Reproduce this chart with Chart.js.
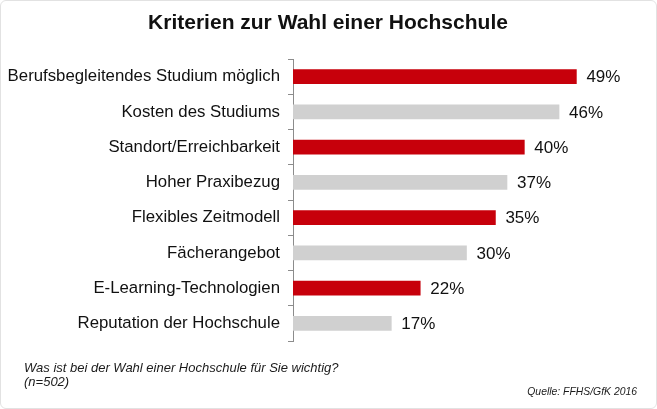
<!DOCTYPE html>
<html>
<head>
<meta charset="utf-8">
<script src="https://cdn.jsdelivr.net/npm/chart.js@4.4.1/dist/chart.umd.min.js"></script>
<style>
    html, body { margin: 0; padding: 0; background: #fff; }
    #wrap {
        position: relative;
        width: 655px;
        height: 407px;
        border: 1px solid #e2e2e2;
        border-radius: 6px;
        overflow: hidden;
    }
    canvas { display: block; }
</style>
</head>
<body>
<div id="wrap"><canvas id="chart" width="655" height="407"></canvas></div>
<script>
// Chart data
const categories = [
    'Berufsbegleitendes Studium möglich',
    'Kosten des Studiums',
    'Standort/Erreichbarkeit',
    'Hoher Praxibezug',
    'Flexibles Zeitmodell',
    'Fächerangebot',
    'E-Learning-Technologien',
    'Reputation der Hochschule'
];
const shares = [49, 46, 40, 37, 35, 30, 22, 17];
const barColors = ['#c7000b', '#d0d0d0', '#c7000b', '#d0d0d0', '#c7000b', '#d0d0d0', '#c7000b', '#d0d0d0'];

const titleText = 'Kriterien zur Wahl einer Hochschule';
const questionText = 'Was ist bei der Wahl einer Hochschule für Sie wichtig?';
const sampleText = '(n=502)';
const sourceText = 'Quelle: FFHS/GfK 2016';

const FONT = "'Liberation Sans', Arial, sans-serif";

// Draws title, value labels and footer notes
const textPlugin = {
    id: 'texts',
    afterDatasetsDraw(chart) {
        const ctx = chart.ctx;
        const meta = chart.getDatasetMeta(0);
        ctx.save();
        ctx.fillStyle = '#111';
        ctx.font = '17px ' + FONT;
        ctx.textAlign = 'left';
        ctx.textBaseline = 'middle';
        meta.data.forEach((bar, i) => {
            ctx.fillText(shares[i] + '%', bar.x + 10, bar.y + 1);
        });
        ctx.restore();
    },
    afterDraw(chart) {
        const ctx = chart.ctx;
        ctx.save();
        ctx.fillStyle = '#111';
        ctx.textBaseline = 'middle';

        ctx.font = 'bold 21px ' + FONT;
        ctx.textAlign = 'center';
        ctx.fillText(titleText, 327, 22);

        ctx.fillStyle = '#1a1a1a';
        ctx.font = 'italic 13px ' + FONT;
        ctx.textAlign = 'left';
        ctx.fillText(questionText, 23, 367);
        ctx.fillText(sampleText, 23, 381);

        ctx.font = 'italic 10.4px ' + FONT;
        ctx.textAlign = 'right';
        ctx.fillText(sourceText, 636, 391);
        ctx.restore();
    }
};

new Chart(document.getElementById('chart'), {
    type: 'bar',
    data: {
        labels: categories,
        datasets: [{
            data: shares,
            backgroundColor: barColors,
            borderWidth: 0,
            barThickness: 14
        }]
    },
    options: {
        indexAxis: 'y',
        responsive: false,
        animation: false,
        layout: {
            padding: { top: 58, bottom: 67, left: 0, right: 16 }
        },
        plugins: {
            legend: { display: false },
            tooltip: { enabled: false }
        },
        scales: {
            x: {
                display: false,
                min: 0,
                max: 60
            },
            y: {
                afterFit: (scale) => { scale.width = 292; },
                border: { display: true, color: '#8c8c8c', width: 1 },
                grid: {
                    drawOnChartArea: false,
                    drawTicks: true,
                    tickLength: 5,
                    color: '#8c8c8c',
                    offset: true
                },
                ticks: {
                    color: '#111',
                    padding: 8,
                    font: { family: FONT, size: 16.8 }
                }
            }
        }
    },
    plugins: [textPlugin]
});
</script>
</body>
</html>
